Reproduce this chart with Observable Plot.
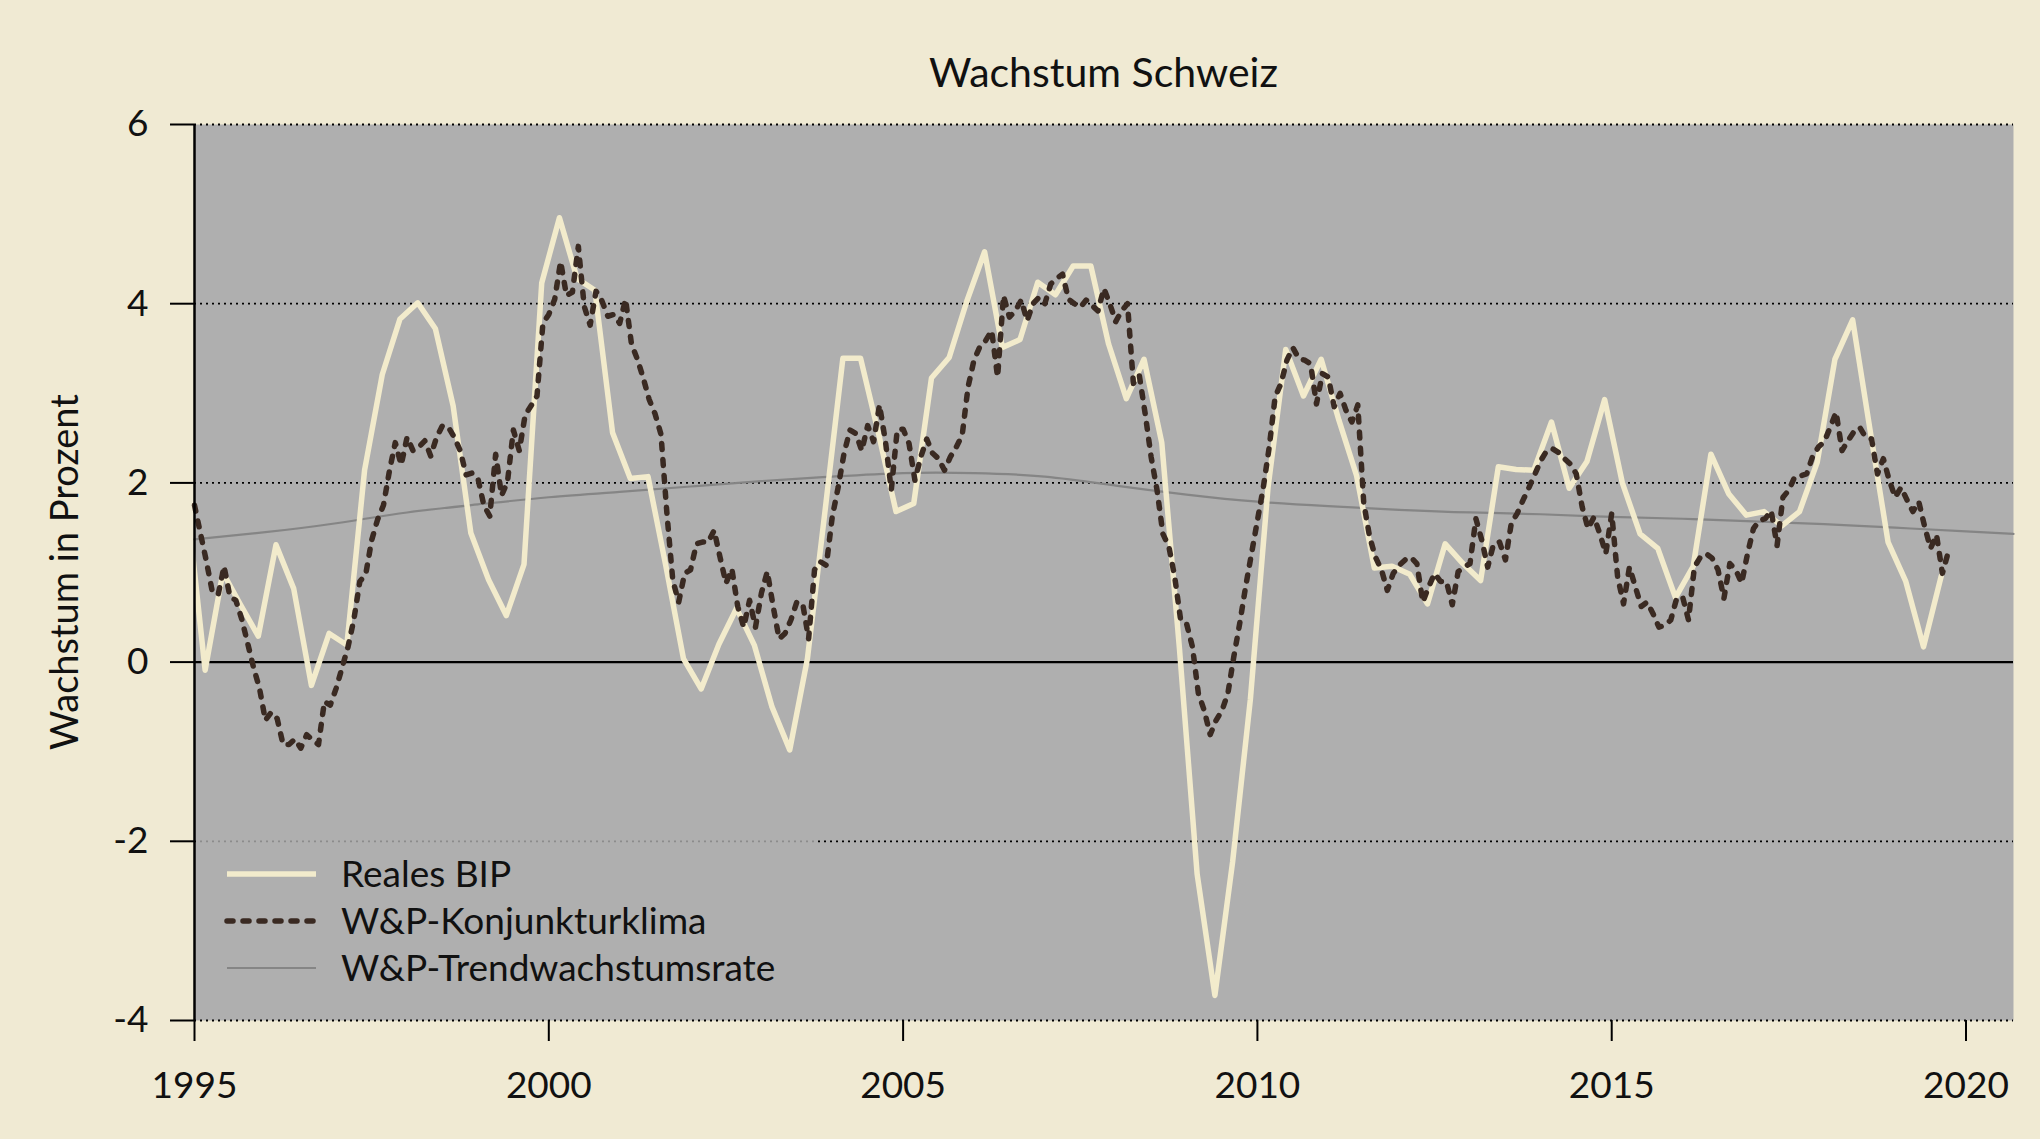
<!DOCTYPE html>
<html>
<head>
<meta charset="utf-8">
<script src="https://cdn.jsdelivr.net/npm/d3@7"></script>
<script src="https://cdn.jsdelivr.net/npm/@observablehq/plot@0.6"></script>
<style>
  html, body { margin: 0; padding: 0; background: #F0EAD3; }
  #wrap { position: relative; width: 2040px; height: 1139px; overflow: hidden; font-family: Lato, "Open Sans", sans-serif; }
  #title { position: absolute; left: 194px; width: 1819px; top: 47px; text-align: center; font-size: 41px; color: #111; }
  #ylabel { position: absolute; left: 63px; top: 572px; transform: translate(-50%, -50%) rotate(-90deg); white-space: nowrap; font-size: 38px; color: #111; }
  #chart { position: absolute; left: 0; top: 0; }
</style>
</head>
<body>
<div id="wrap">
  <div id="chart"></div>
  <div id="title">Wachstum Schweiz</div>
  <div id="ylabel">Wachstum in Prozent</div>
</div>
<script>
// ---- Data ----
// Reales BIP: quarterly growth rates, first point at 1994.90, step 0.25 years
const bipStart = 1994.9;
const bipValues = [
  1.74, -0.09, 1.00, 0.64, 0.29, 1.31, 0.82, -0.26, 0.32, 0.19,
  2.14, 3.21, 3.83, 4.01, 3.72, 2.86, 1.44, 0.92, 0.52, 1.09,
  4.23, 4.96, 4.28, 4.15, 2.56, 2.05, 2.07, 1.08, 0.04, -0.30,
  0.20, 0.60, 0.19, -0.50, -0.98, 0.04, 1.70, 3.39, 3.39, 2.56,
  1.68, 1.77, 3.17, 3.40, 4.03, 4.58, 3.51, 3.60, 4.24, 4.10,
  4.42, 4.42, 3.55, 2.94, 3.38, 2.45, 0.15, -2.37, -3.72, -2.23,
  -0.42, 1.95, 3.49, 2.97, 3.38, 2.70, 2.08, 1.05, 1.07, 0.98,
  0.65, 1.32, 1.10, 0.91, 2.18, 2.15, 2.14, 2.68, 1.94, 2.24,
  2.93, 2.00, 1.43, 1.27, 0.72, 1.07, 2.32, 1.88, 1.64, 1.68,
  1.52, 1.68, 2.23, 3.38, 3.82, 2.57, 1.34, 0.90, 0.17, 0.96
];
// W&P-Konjunkturklima: monthly, starting January 1995
const klimaStart = 1995;
const klimaValues = [
  1.75, 1.44, 1.13, 0.79, 0.75, 1.07, 0.73, 0.69, 0.48, 0.21,
  -0.06, -0.29, -0.65, -0.56, -0.63, -0.92, -0.92, -0.86, -0.96, -0.81,
  -0.87, -0.92, -0.44, -0.48, -0.29, -0.06, 0.17, 0.48, 0.90, 0.98,
  1.36, 1.59, 1.75, 2.13, 2.45, 2.20, 2.51, 2.36, 2.40, 2.47,
  2.30, 2.51, 2.64, 2.62, 2.51, 2.36, 2.09, 2.11, 2.05, 1.75,
  1.63, 2.32, 1.86, 2.01, 2.59, 2.36, 2.76, 2.86, 2.97, 3.78,
  3.88, 4.05, 4.47, 4.09, 4.13, 4.64, 3.97, 3.76, 4.14, 4.03,
  3.86, 3.88, 3.78, 4.05, 3.55, 3.38, 3.17, 2.93, 2.77, 2.54,
  1.66, 0.91, 0.67, 0.99, 1.03, 1.32, 1.34, 1.34, 1.47, 1.17,
  0.88, 1.04, 0.62, 0.39, 0.69, 0.39, 0.77, 1.01, 0.62, 0.26,
  0.32, 0.47, 0.67, 0.65, 0.26, 1.03, 1.12, 1.08, 1.62, 1.95,
  2.33, 2.59, 2.55, 2.36, 2.64, 2.46, 2.87, 2.47, 1.92, 2.59,
  2.60, 2.44, 2.03, 2.29, 2.49, 2.33, 2.27, 2.14, 2.29, 2.40,
  2.53, 3.07, 3.37, 3.52, 3.59, 3.70, 3.18, 4.09, 3.85, 3.92,
  4.04, 3.81, 4.00, 4.07, 4.00, 4.22, 4.28, 4.33, 4.05, 4.00,
  3.96, 4.04, 3.98, 3.92, 4.17, 4.00, 3.80, 3.92, 4.00, 3.11,
  3.20, 2.77, 2.29, 1.92, 1.43, 1.29, 0.95, 0.47, 0.43, 0.17,
  -0.35, -0.54, -0.81, -0.65, -0.54, -0.35, 0.06, 0.43, 0.84, 1.21,
  1.58, 1.95, 2.40, 2.96, 3.11, 3.37, 3.51, 3.39, 3.37, 3.33,
  2.88, 3.22, 3.18, 2.85, 3.00, 2.81, 2.68, 2.87, 1.78, 1.40,
  1.17, 1.03, 0.80, 0.99, 1.08, 1.14, 1.17, 1.10, 0.67, 0.84,
  0.99, 0.90, 0.90, 0.64, 1.01, 1.06, 1.10, 1.60, 1.36, 1.06,
  1.32, 1.34, 1.14, 1.55, 1.66, 1.81, 1.95, 2.10, 2.25, 2.36,
  2.38, 2.34, 2.27, 2.21, 2.10, 1.73, 1.49, 1.62, 1.43, 1.21,
  1.66, 0.95, 0.65, 1.06, 0.84, 0.62, 0.67, 0.54, 0.39, 0.41,
  0.47, 0.71, 0.73, 0.47, 1.06, 1.17, 1.21, 1.16, 1.03, 0.71,
  1.10, 1.03, 0.88, 1.21, 1.49, 1.58, 1.60, 1.69, 1.30, 1.84,
  1.92, 2.07, 2.08, 2.10, 2.29, 2.40, 2.46, 2.62, 2.79, 2.36,
  2.47, 2.57, 2.62, 2.51, 2.49, 2.10, 2.27, 2.03, 1.84, 1.95,
  1.81, 1.68, 1.79, 1.51, 1.27, 1.42, 0.99, 1.23
];
// W&P-Trendwachstumsrate
const trendYears = [1995, 1996, 1997, 1998, 1999, 2000, 2001, 2002, 2003, 2004, 2005, 2006, 2007,
  2008, 2009, 2010, 2011, 2012, 2013, 2014, 2015, 2016, 2017, 2018, 2019, 2020, 2020.67];
const trendValues = [1.37, 1.45, 1.55, 1.67, 1.76, 1.84, 1.90, 1.96, 2.02, 2.07, 2.11, 2.11, 2.07,
  1.97, 1.87, 1.79, 1.74, 1.70, 1.67, 1.65, 1.62, 1.60, 1.57, 1.54, 1.50, 1.46, 1.43];

const xTicks = [1995, 2000, 2005, 2010, 2015, 2020];
const yTicks = [-4, -2, 0, 2, 4, 6];
const gridLines = [-4, -2, 2, 4, 6];
const seriesNames = ["Reales BIP", "W&P-Konjunkturklima", "W&P-Trendwachstumsrate"];

// ---- Tables ----
const bip = bipValues.map((v, i) => ({t: bipStart + 0.25 * i, v}));
const klima = klimaValues.map((v, i) => ({t: klimaStart + i / 12, v}));
const trend = trendValues.map((v, i) => ({t: trendYears[i], v}));

const COL_BG = "#AFAFAF", COL_BIP = "#F2EBCC", COL_KLIMA = "#3A2A22", COL_TREND = "#858585";
const FONT = "Lato, 'Open Sans', sans-serif";
const KLIMA_DASH = "6,10";

const chart = Plot.plot({
  width: 2040,
  height: 1139,
  marginLeft: 194,
  marginRight: 27,
  marginTop: 124,
  marginBottom: 119,
  style: {background: "transparent", fontFamily: FONT, fontSize: "37px", color: "#111"},
  x: {domain: [1995, 2020.67]},
  y: {domain: [-4, 6]},
  marks: [
    Plot.frame({fill: COL_BG, stroke: null}),
    Plot.ruleY(gridLines, {stroke: "#000", strokeWidth: 1.8, strokeDasharray: "2,4"}),
    Plot.ruleY([0], {stroke: "#000", strokeWidth: 2.2}),
    Plot.line(trend, {x: "t", y: "v", stroke: COL_TREND, strokeWidth: 2.2, curve: "natural"}),
    Plot.line(bip, {x: "t", y: "v", stroke: COL_BIP, strokeWidth: 5.5, strokeLinejoin: "round", clip: true}),
    Plot.line(klima, {x: "t", y: "v", stroke: COL_KLIMA, strokeWidth: 5.5, strokeDasharray: KLIMA_DASH, strokeLinecap: "round", strokeLinejoin: "round"}),
    Plot.axisX({ticks: xTicks, tickFormat: d => String(d), tickSize: 21, tickPadding: 30, strokeWidth: 2, stroke: "#000", fill: "#111", fontSize: 37, label: null}),
    Plot.axisY({ticks: yTicks, tickFormat: d => String(d), tickSize: 24, tickPadding: 22, strokeWidth: 2, stroke: "#000", fill: "#111", fontSize: 37, label: null}),
    Plot.ruleX([1995], {stroke: "#000", strokeWidth: 2.5})
  ]
});
document.getElementById("chart").appendChild(chart);

// ---- Legend (inside the plot area, bottom left) ----
const svg = d3.select(chart);
const lg = svg.append("g").attr("class", "legend");
lg.append("rect").attr("x", 196).attr("y", 840).attr("width", 618).attr("height", 170)
  .attr("fill", COL_BG).attr("fill-opacity", 0.8);
const styles = [
  {stroke: COL_BIP, width: 5.5, dash: null, cap: "butt"},
  {stroke: COL_KLIMA, width: 5.5, dash: KLIMA_DASH, cap: "round"},
  {stroke: COL_TREND, width: 2.2, dash: null, cap: "butt"}
];
seriesNames.forEach((name, i) => {
  const y = 874 + i * 47;
  const s = styles[i];
  const ln = lg.append("line").attr("x1", 227).attr("x2", 316).attr("y1", y).attr("y2", y)
    .attr("stroke", s.stroke).attr("stroke-width", s.width).attr("stroke-linecap", s.cap);
  if (s.dash) ln.attr("stroke-dasharray", s.dash);
  lg.append("text").attr("x", 341).attr("y", y).attr("dy", "0.35em")
    .attr("text-anchor", "start")
    .attr("font-size", 37).attr("fill", "#111").attr("font-family", FONT)
    .text(name);
});
</script>
</body>
</html>
